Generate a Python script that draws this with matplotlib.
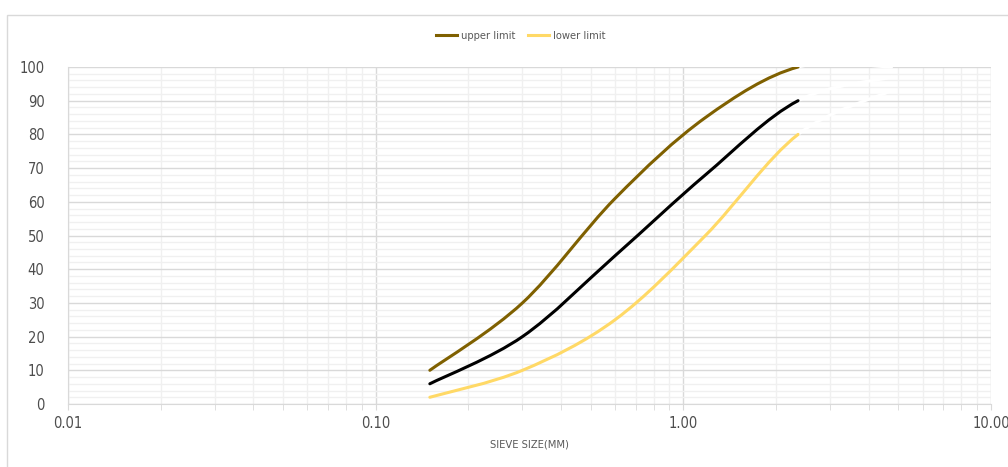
import numpy as np
import matplotlib
matplotlib.use('Agg')
import matplotlib.pyplot as plt
from matplotlib import font_manager
from matplotlib.path import Path
from matplotlib.patches import PathPatch, Rectangle
from matplotlib.lines import Line2D
from matplotlib.ticker import FixedLocator, LogLocator, NullFormatter, FormatStrFormatter

# pick a narrow font close to Calibri if one is there
fonts = [(f.name, f.stretch) for f in font_manager.fontManager.ttflist]
names = {n for n, s in fonts}
if 'Liberation Sans Narrow' in names:
    plt.rcParams['font.family'] = ['Liberation Sans Narrow', 'DejaVu Sans']
elif ('DejaVu Sans', 'condensed') in fonts:
    plt.rcParams['font.family'] = ['DejaVu Sans']
    plt.rcParams['font.stretch'] = 'condensed'
else:
    plt.rcParams['font.family'] = ['Lato', 'DejaVu Sans']

# data
sieve = [0.15, 0.3, 0.6, 1.18, 2.36]
upper = [10, 30, 61, 85, 100]
middle = [6, 20, 44, 68, 90]
lower = [2, 10, 25, 50, 80]
# hidden continuation to 4.75 mm (drawn white in the original)
sieve_end = 4.75
end_vals = [100, 97, 93]

x_ticks = [0.01, 0.1, 1, 10]
y_ticks = list(range(0, 101, 10))

c_upper = '#7f6000'
c_lower = '#ffd966'
c_mid = '#000000'
grey = '#4d4d4d'


def smooth_path(xs, ys):
    # excel-like smoothed line: catmull-rom bezier in (log x, y)
    lx = np.log10(xs)
    p = np.column_stack([lx, ys])
    pts = np.vstack([p[0], p, p[-1]])
    verts = [p[0]]
    codes = [Path.MOVETO]
    for i in range(1, len(pts) - 2):
        c1 = pts[i] + (pts[i + 1] - pts[i - 1]) / 6
        c2 = pts[i + 1] - (pts[i + 2] - pts[i]) / 6
        verts += [c1, c2, pts[i + 1]]
        codes += [Path.CURVE4] * 3
    verts = np.array(verts)
    verts[:, 0] = 10 ** verts[:, 0]
    return Path(verts, codes)


def split_path(xs, ys, n_main):
    full = smooth_path(xs, ys)
    nv = 1 + 3 * (n_main - 1)
    main = Path(full.vertices[:nv], full.codes[:nv])
    tail = Path(full.vertices[nv - 1:], [Path.MOVETO] + list(full.codes[nv:]))
    return main, tail


fig = plt.figure(figsize=(10.08, 4.67), dpi=100)
ax = fig.add_axes([68 / 1008, 63 / 467, 923 / 1008, 337 / 467])

# chart area border
fig.add_artist(Rectangle((7 / 1008, -0.1), 1.2, 1.1 - 15 / 467, transform=fig.transFigure,
                         fill=False, edgecolor='#d9d9d9', lw=1))

ax.set_xscale('log')
ax.set_xlim(0.01, 10)
ax.set_ylim(0, 100)

ax.xaxis.set_major_locator(FixedLocator(x_ticks))
ax.xaxis.set_major_formatter(FormatStrFormatter('%.2f'))
ax.xaxis.set_minor_locator(LogLocator(base=10, subs=np.arange(2, 10)))
ax.xaxis.set_minor_formatter(NullFormatter())
ax.yaxis.set_major_locator(FixedLocator(y_ticks))
ax.yaxis.set_minor_locator(FixedLocator(range(0, 101, 2)))

ax.grid(True, which='major', color='#d9d9d9', lw=1)
ax.grid(True, which='minor', color='#f0f0f0', lw=1)
ax.set_axisbelow(True)

for s in ['top', 'right']:
    ax.spines[s].set_visible(False)
for s in ['left', 'bottom']:
    ax.spines[s].set_color('#d9d9d9')

ax.tick_params(axis='x', which='both', length=4, color='#d9d9d9', direction='out',
               labelsize=10.5, labelcolor=grey, pad=5)
ax.tick_params(axis='y', which='both', length=0, labelsize=10.5, labelcolor=grey, pad=17)

for ys, col, end in [(upper, c_upper, end_vals[0]), (middle, c_mid, end_vals[1]),
                     (lower, c_lower, end_vals[2])]:
    main, tail = split_path(sieve + [sieve_end], ys + [end], len(sieve))
    ax.add_patch(PathPatch(tail, fill=False, edgecolor='white', lw=2.2, capstyle='round'))
    ax.add_patch(PathPatch(main, fill=False, edgecolor=col, lw=2.2, capstyle='round'))

ax.set_xlabel('SIEVE SIZE(MM)', fontsize=8, color='#595959', labelpad=6)

handles = [Line2D([], [], color=c_upper, lw=2.2), Line2D([], [], color=c_lower, lw=2.2)]
fig.legend(handles, ['upper limit', 'lower limit'], loc='center', bbox_to_anchor=(0.5165, 1 - 36 / 467),
           ncol=2, frameon=False, fontsize=8, labelcolor='#595959', handlelength=1.9,
           handletextpad=0.3, columnspacing=1.2)

fig.savefig('out.png', dpi=100)
